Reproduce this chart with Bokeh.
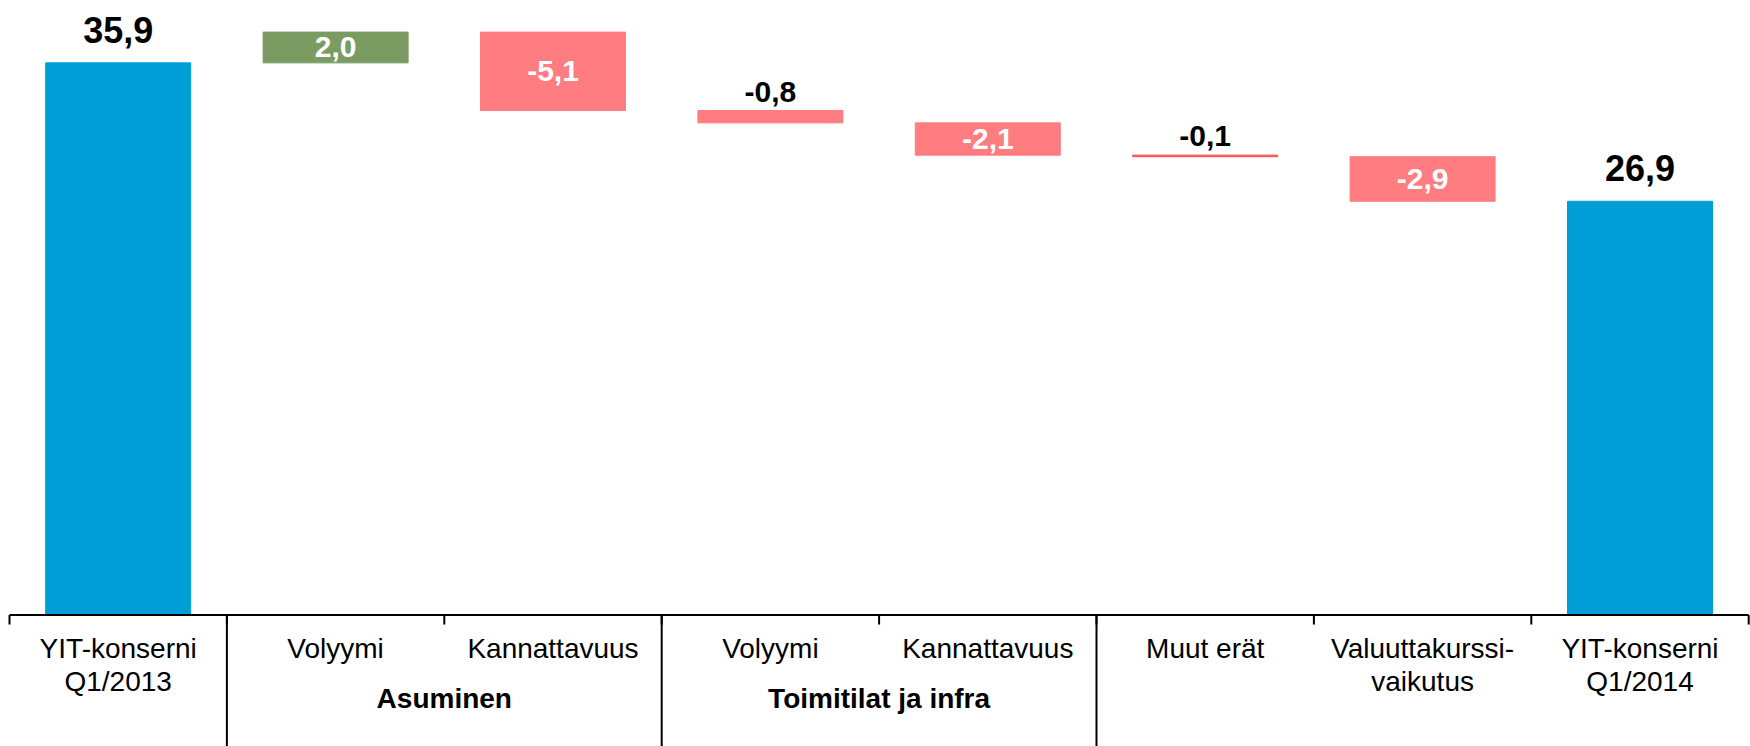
from bokeh.plotting import figure
from bokeh.models import Range1d, ColumnDataSource
from bokeh.core.properties import value
from bokeh.embed import file_html
from bokeh.resources import INLINE

# ---- data ----
categories = ["YIT-konserni\nQ1/2013", "Volyymi", "Kannattavuus", "Volyymi",
              "Kannattavuus", "Muut erät", "Valuuttakurssi-\nvaikutus", "YIT-konserni\nQ1/2014"]
groups = ["", "Asuminen", "Asuminen", "Toimitilat ja infra", "Toimitilat ja infra", "", "", ""]
values = [35.9, 2.0, -5.1, -0.8, -2.1, -0.1, -2.9, 26.9]
is_total = [True, False, False, False, False, False, False, True]

# ---- styles ----
FONT = value("Liberation Sans")
BLUE = "#009DD6"
GREEN = "#7A9C62"
SALMON = "#FF7C80"
THIN_RED = "#F04444"

n = len(categories)
xs = [i + 0.5 for i in range(n)]

bottoms, tops, fills, lines = [], [], [], []
running = 0.0
for v, tot in zip(values, is_total):
    if tot:
        b, t = 0.0, v
        running = v
        fills.append(BLUE)
        lines.append(BLUE)
    else:
        b, t = running, running + v
        running += v
        col = GREEN if v > 0 else SALMON
        fills.append(col)
        lines.append(THIN_RED if abs(v) < 0.5 else col)
    bottoms.append(min(b, t))
    tops.append(max(b, t))

labels = [f"{v:.1f}".replace(".", ",") for v in values]

Y_MIN = -8.55
p = figure(width=1750, height=746,
           x_range=Range1d(-0.0414, 8.0083), y_range=Range1d(Y_MIN, 39.955),
           output_backend="svg", toolbar_location=None,
           x_axis_location=None, y_axis_location=None,
           min_border=0, outline_line_color=None)
p.grid.visible = False
p.background_fill_color = "white"
p.border_fill_color = "white"

src = ColumnDataSource(dict(x=xs, bottom=bottoms, top=tops, fill=fills, line=lines))
p.vbar(x="x", width=0.667, bottom="bottom", top="top", fill_color="fill",
       line_color="line", line_width=1, source=src)

# value labels
in_x, in_y, in_t = [], [], []
tot_x, tot_y, tot_t = [], [], []
out_x, out_y, out_t = [], [], []
for x, b, t, v, tot, lab in zip(xs, bottoms, tops, values, is_total, labels):
    if tot:
        tot_x.append(x); tot_y.append(t + 2.15); tot_t.append(lab)
    elif abs(v) >= 1:
        in_x.append(x); in_y.append((b + t) / 2); in_t.append(lab)
    else:
        out_x.append(x); out_y.append(t + 1.22); out_t.append(lab)

p.text(x=tot_x, y=tot_y, text=tot_t, text_font=FONT, text_font_style="bold",
       text_font_size="36px", text_color="black", text_align="center",
       text_baseline="middle")
p.text(x=out_x, y=out_y, text=out_t, text_font=FONT, text_font_style="bold",
       text_font_size="30px", text_color="black", text_align="center",
       text_baseline="middle")
p.text(x=in_x, y=in_y, text=in_t, text_font=FONT, text_font_style="bold",
       text_font_size="30px", text_color="white", text_align="center",
       text_baseline="middle")

# category axis: line, ticks, group separators
p.segment(x0=[0], y0=[0], x1=[n], y1=[0], line_color="black", line_width=2)
bounds = list(range(n + 1))
p.segment(x0=bounds, y0=[0] * len(bounds), x1=bounds, y1=[-0.62] * len(bounds),
          line_color="black", line_width=2)
sep = [i for i in range(1, n) if groups[i - 1] != groups[i]]
p.segment(x0=sep, y0=[0] * len(sep), x1=sep, y1=[Y_MIN] * len(sep),
          line_color="black", line_width=2)

line1 = [c.split("\n")[0] for c in categories]
line2 = [c.split("\n")[1] if "\n" in c else "" for c in categories]
p.text(x=xs, y=[-2.18] * n, text=line1, text_font=FONT, text_font_size="28px",
       text_color="black", text_align="center", text_baseline="middle")
p.text(x=xs, y=[-4.30] * n, text=line2, text_font=FONT, text_font_size="28px",
       text_color="black", text_align="center", text_baseline="middle")

gnames, gx = [], []
for g in dict.fromkeys(groups):
    if g:
        members = [x for x, gg in zip(xs, groups) if gg == g]
        gnames.append(g)
        gx.append(sum(members) / len(members))
p.text(x=gx, y=[-5.42] * len(gx), text=gnames, text_font=FONT, text_font_style="bold",
       text_font_size="28px", text_color="black", text_align="center",
       text_baseline="middle")

open("out.html", "w").write(file_html(p, INLINE))
